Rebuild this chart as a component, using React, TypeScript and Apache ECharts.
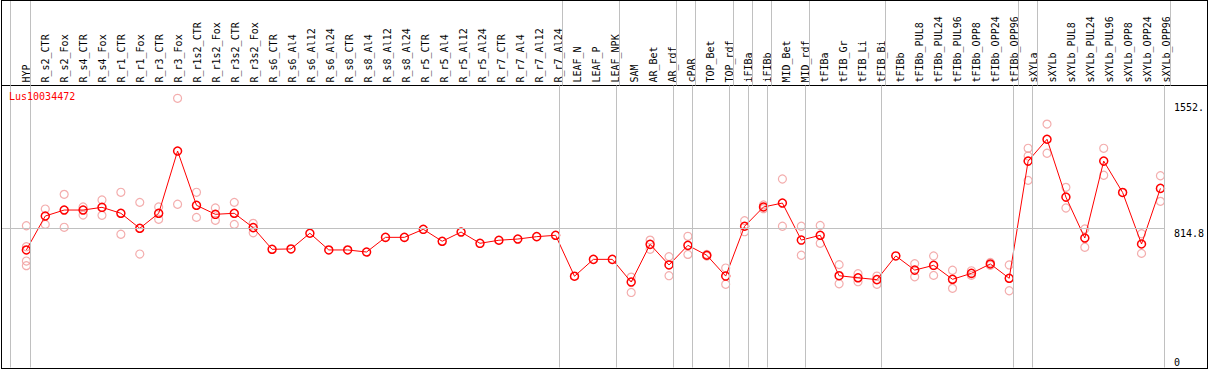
import React, { useEffect, useRef } from 'react';
import * as echarts from 'echarts';

const geneId = 'Lus10034472';

const categories = [
  'HYP', 'R_s2_CTR', 'R_s2_Fox', 'R_s4_CTR', 'R_s4_Fox', 'R_r1_CTR', 'R_r1_Fox', 'R_r3_CTR', 'R_r3_Fox',
  'R_r1s2_CTR', 'R_r1s2_Fox', 'R_r3s2_CTR', 'R_r3s2_Fox', 'R_s6_CTR', 'R_s6_Al4', 'R_s6_Al12', 'R_s6_Al24',
  'R_s8_CTR', 'R_s8_Al4', 'R_s8_Al12', 'R_s8_Al24', 'R_r5_CTR', 'R_r5_Al4', 'R_r5_Al12', 'R_r5_Al24',
  'R_r7_CTR', 'R_r7_Al4', 'R_r7_Al12', 'R_r7_Al24', 'LEAF_N', 'LEAF_P', 'LEAF_NPK', 'SAM', 'AR_Bet', 'AR_rdf',
  'cPAR', 'TOP_Bet', 'TOP_rdf', 'iFIBa', 'iFIBb', 'MID_Bet', 'MID_rdf', 'tFIBa', 'tFIB_Gr', 'tFIB_Li', 'tFIB_Bi',
  'tFIBb', 'tFIBb_PUL8', 'tFIBb_PUL24', 'tFIBb_PUL96', 'tFIBb_OPP8', 'tFIBb_OPP24', 'tFIBb_OPP96', 'sXYLa',
  'sXYLb', 'sXYLb_PUL8', 'sXYLb_PUL24', 'sXYLb_PUL96', 'sXYLb_OPP8', 'sXYLb_OPP24', 'sXYLb_OPP96',
];

const means = [
  689, 888, 923, 923, 939, 904, 816, 904, 1269,
  951, 898, 904, 820, 693, 695, 787, 689,
  689, 677, 763, 763, 810, 740, 794, 728,
  746, 753, 767, 775, 535, 634, 634, 501, 722, 601,
  716, 658, 536, 828, 941, 964, 747, 775, 538, 526, 515,
  654, 571, 599, 517, 552, 607, 523, 1210,
  1338, 999, 759, 1210, 1026, 724, 1050,
];

const replicates: number[][] = [
  [831, 708, 624, 597], [929, 839], [1015, 822], [941, 894], [982, 892], [1027, 781], [968, 665], [941, 869], [1578, 957],
  [1027, 880], [935, 863], [968, 839], [845, 790], [], [], [], [],
  [], [], [], [], [], [], [], [],
  [], [], [], [], [], [], [], [530, 440], [747, 693], [650, 538],
  [769, 663], [663, 653], [583, 488], [861, 796], [953, 931], [1105, 828], [828, 658], [833, 728], [603, 491], [550, 503], [536, 488],
  [], [609, 532], [654, 540], [570, 464], [567, 540], [616, 599], [601, 450], [1285, 1240, 1097],
  [1427, 1256], [1056, 935], [812, 705], [1285, 1127], [], [784, 669], [1124, 974],
];

// indices of the last category of each group (a separator follows them)
const groupEnds = [0, 28, 31, 34, 35, 37, 38, 39, 41, 45, 52, 53, 60];

const yTickValues = [0, 814.8, 1552];
const yTickLabels = ['0', '814.8', '1552.'];
const refLineValue = 814.8;

const STEP = 19;
const FIRST_X = 24.5;
const CHART_W = 1205;
const PLOT_RIGHT = 1169;
const X_MIN = (0 - FIRST_X) / STEP;
const X_MAX_PLOT = (PLOT_RIGHT - FIRST_X) / STEP;
const X_MAX_FULL = (CHART_W - FIRST_X) / STEP;
const SEP_OFF = 4 / STEP;
const LEFT_EDGE = -16 / STEP;
const Y_MAX = 1653.1;
const MONO = 'DejaVu Sans Mono';

function yLabel(v: number) {
  let best = 0;
  for (let i = 0; i < yTickValues.length; i++) {
    if (Math.abs(yTickValues[i] - v) < Math.abs(yTickValues[best] - v)) best = i;
  }
  return yTickLabels[best];
}

export default function App() {
  const ref = useRef<HTMLDivElement>(null);
  useEffect(() => {
    document.body.style.margin = '0';
    if (!ref.current) return;
    const chart = echarts.init(ref.current, undefined, { renderer: 'svg' });
    const sepLines = [{ xAxis: LEFT_EDGE }, ...groupEnds.map((i) => ({ xAxis: i + SEP_OFF }))];
    const repPoints: number[][] = [];
    replicates.forEach((arr, i) => arr.forEach((v) => repPoints.push([i, v])));
    const markLineBase = {
      silent: true,
      symbol: 'none',
      label: { show: false },
      lineStyle: { color: '#c0c0c0', type: 'solid', width: 1 },
      emphasis: { disabled: true },
      animation: false,
    };
    chart.setOption({
      animation: false,
      title: {
        text: geneId,
        left: 7,
        top: 90,
        padding: 0,
        textStyle: { color: '#ff0000', fontSize: 10, fontWeight: 'normal', fontFamily: MONO },
      },
      grid: [
        { left: 0, right: 0, top: 0, height: 84.5 },
        { left: 0, width: PLOT_RIGHT, top: 84.5, bottom: 0.5 },
      ],
      xAxis: [
        {
          type: 'value', gridIndex: 0, min: X_MIN, max: X_MAX_FULL, position: 'bottom',
          axisLine: { show: true, onZero: false, lineStyle: { color: '#000', width: 1 } },
          axisTick: { show: false }, splitLine: { show: false },
          axisLabel: {
            inside: true, rotate: 90, margin: 3,
            customValues: categories.map((_, i) => i),
            formatter: (v: number) => categories[Math.round(v)] ?? '',
            fontFamily: MONO, fontSize: 10, color: '#000',
          },
        },
        { type: 'value', gridIndex: 1, min: X_MIN, max: X_MAX_PLOT, show: false },
      ],
      yAxis: [
        { type: 'value', gridIndex: 0, min: 0, max: 1, show: false },
        {
          type: 'value', gridIndex: 1, min: 0, max: Y_MAX, position: 'right',
          axisLine: { show: false }, axisTick: { show: false }, splitLine: { show: false },
          axisLabel: {
            customValues: yTickValues.slice(1), formatter: yLabel, verticalAlign: 'top', margin: 9,
            fontFamily: MONO, fontSize: 10, color: '#000',
          },
        },
        {
          type: 'value', gridIndex: 1, min: 0, max: Y_MAX, position: 'right',
          axisLine: { show: false }, axisTick: { show: false }, splitLine: { show: false },
          axisLabel: {
            customValues: yTickValues.slice(0, 1), formatter: yLabel, verticalAlign: 'bottom', margin: 9,
            fontFamily: MONO, fontSize: 10, color: '#000',
          },
        },
      ],
      series: [
        { type: 'line', xAxisIndex: 0, yAxisIndex: 0, data: [], silent: true, markLine: { ...markLineBase, data: sepLines } },
        { type: 'line', xAxisIndex: 1, yAxisIndex: 1, data: [], silent: true, markLine: { ...markLineBase, data: [...sepLines, { yAxis: refLineValue }] } },
        {
          type: 'scatter', xAxisIndex: 1, yAxisIndex: 1, data: repPoints, symbol: 'circle', symbolSize: 8,
          itemStyle: { color: 'rgba(0,0,0,0)', borderColor: '#f09898', borderWidth: 1.2 }, z: 3,
        },
        {
          type: 'line', xAxisIndex: 1, yAxisIndex: 1, data: means.map((v, i) => [i, v]),
          symbol: 'circle', symbolSize: 8, showSymbol: true, showAllSymbol: true,
          lineStyle: { color: '#ff0000', width: 1 },
          itemStyle: { color: 'rgba(0,0,0,0)', borderColor: '#ff0000', borderWidth: 1.5 }, z: 4,
        },
      ],
    });
    return () => chart.dispose();
  }, []);
  return (
    <div style={{ position: 'relative', width: 1209, height: 370, background: '#fff' }}>
      <div
        ref={ref}
        style={{
          position: 'absolute', left: 1, top: 0, width: 1207, height: 369,
          border: '1px solid #000', boxSizing: 'border-box', overflow: 'hidden',
        }}
      />
    </div>
  );
}
